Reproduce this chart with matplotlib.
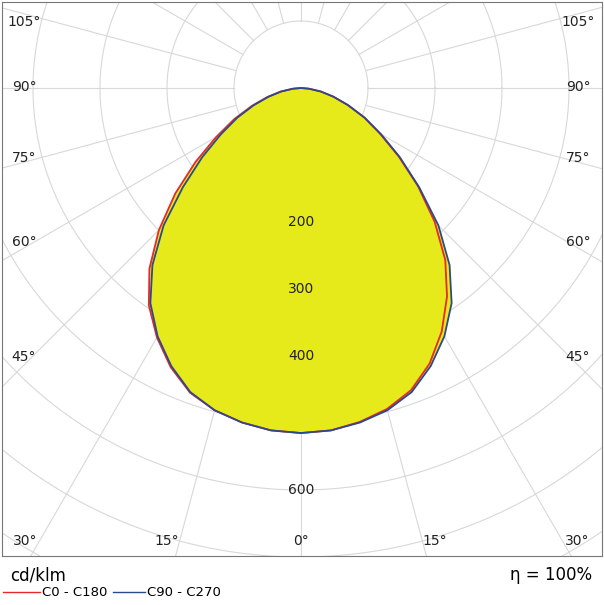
import numpy as np
import matplotlib
matplotlib.use('Agg')
import matplotlib.pyplot as plt

# angles from nadir (deg) and intensities (cd/klm)
angles = [0, 5, 10, 15, 20, 25, 30, 35, 40, 45, 50, 55, 60, 65, 70, 75, 80, 85, 90]
c0 = [515, 513, 506, 496, 480, 454, 420, 380, 335, 282, 228, 178, 136, 104, 74, 50, 30, 12, 0]
c180 = [515, 513, 507, 498, 484, 460, 430, 396, 352, 300, 245, 192, 146, 110, 78, 52, 31, 12, 0]
c90 = [515, 513, 507, 498, 483, 458, 428, 392, 345, 290, 230, 180, 138, 105, 75, 50, 30, 12, 0]
c270 = c90
ring_labels = [200, 300, 400, 600]

plt.rcParams['font.family'] = ['DejaVu Sans']
W, H = 604, 605
fig = plt.figure(figsize=(W / 100, H / 100), dpi=100)
cx, cy, s = 301, 88, 0.67
bl, br, bt, bb = 2, 602, 2, 556
ax = fig.add_axes([bl / W, (H - bb) / H, (br - bl) / W, (bb - bt) / H])
ax.set_xlim((bl - cx) / s, (br - cx) / s)
ax.set_ylim((cy - bb) / s, (cy - bt) / s)
ax.set_xticks([])
ax.set_yticks([])
for sp in ax.spines.values():
    sp.set_color('#777777')
    sp.set_linewidth(0.8)

grid = '#d8d8d8'
t = np.linspace(0, 2 * np.pi, 400)
for r in range(100, 1000, 100):
    ax.plot(r * np.cos(t), r * np.sin(t), color=grid, lw=0.8, zorder=1)
for a in range(0, 360, 15):
    th = np.radians(a)
    ax.plot([100 * np.sin(th), 1200 * np.sin(th)], [-100 * np.cos(th), -1200 * np.cos(th)],
            color=grid, lw=0.8, zorder=1)


def curve(right, left):
    th = np.radians(np.array(angles))
    r1 = np.array(right, dtype=float)
    r2 = np.array(left, dtype=float)
    x = np.concatenate([r1 * np.sin(th), -(r2 * np.sin(th))[::-1]])
    y = np.concatenate([-r1 * np.cos(th), -(r2 * np.cos(th))[::-1]])
    return x, y


xr, yr = curve(c0, c180)
xb, yb = curve(c90, c270)
ax.fill(xr, yr, color='#e6ea1a', zorder=2, lw=0)
ax.fill(xb, yb, color='#e6ea1a', zorder=2, lw=0)
ax.plot(xr, yr, color='#e8282b', lw=1.3, zorder=3)
ax.plot(xb, yb, color='#2b4a8c', lw=1.3, zorder=4)

for v in ring_labels:
    ax.text(0, -v, str(v), ha='center', va='center', fontsize=10, color='#222222', zorder=5)

lab = dict(fontsize=10, color='#222222', va='center', ha='center')
for txt, px, py in [('0°', 301, 541), ('15°', 167, 541), ('15°', 435, 541),
                    ('30°', 25, 541), ('30°', 577, 541)]:
    fig.text(px / W, 1 - py / H, txt, **lab)
for txt, py in [('45°', 357), ('60°', 242), ('75°', 158), ('90°', 87), ('105°', 22)]:
    fig.text(24 / W, 1 - py / H, txt, **lab)
    fig.text(578 / W, 1 - py / H, txt, **lab)

fig.text(10 / W, 1 - 575 / H, 'cd/klm', fontsize=12, va='center', ha='left')
fig.text(592 / W, 1 - 575 / H, 'η = 100%', fontsize=12, va='center', ha='right')
fig.add_artist(plt.Line2D([3 / W, 40 / W], [1 - 592 / H] * 2, color='#e8282b', lw=1))
fig.text(42 / W, 1 - 592 / H, 'C0 - C180', fontsize=9.5, va='center', ha='left')
fig.add_artist(plt.Line2D([113 / W, 145 / W], [1 - 592 / H] * 2, color='#2b4a8c', lw=1))
fig.text(147 / W, 1 - 592 / H, 'C90 - C270', fontsize=9.5, va='center', ha='left')

fig.savefig('out.png', dpi=100)
